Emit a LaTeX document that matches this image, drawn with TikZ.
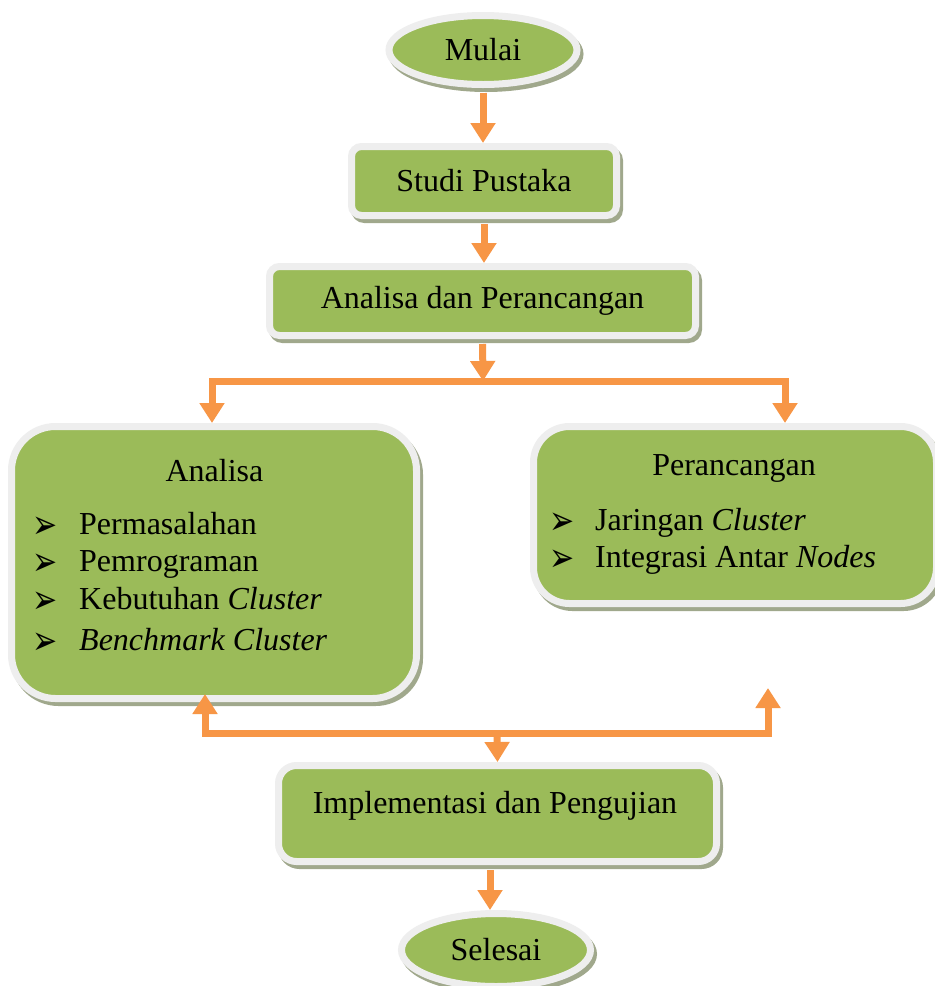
\documentclass[tikz,border=0pt]{standalone}
\usepackage{fontspec}
\setmainfont{Liberation Serif}
\newfontfamily\symfont{DejaVu Sans}
\usetikzlibrary{arrows.meta,shapes.geometric,shadows}
\definecolor{grn}{RGB}{155,187,89}
\definecolor{frm}{RGB}{238,238,238}
\definecolor{shd}{RGB}{160,168,140}
\definecolor{orng}{RGB}{247,150,70}
\newcommand{\mybul}{\scalebox{1}[1.35]{➢}}
\begin{document}
\begin{tikzpicture}[x=1pt,y=-1pt,
  every node/.style={font=\fontsize{32}{38}\selectfont, text=black},
  boxbase/.style={draw=frm, fill=grn, line width=7pt, inner sep=0pt,
     drop shadow={shadow xshift=3pt, shadow yshift=-4pt, opacity=1, fill=shd, draw=shd, line width=7pt}},
  rbox/.style={boxbase, rectangle},
  obox/.style={boxbase, ellipse},
  txt/.style={inner sep=0pt},
  arr/.style={draw=orng, line width=7pt, line join=miter, -{Triangle[width=24pt,length=20pt]}},
  bul/.style={inner sep=0pt, anchor=base west, font=\symfont\fontsize{30}{32}\selectfont}
]
\fill[white] (0,0) rectangle (935,986);
\useasboundingbox (0,0) rectangle (935,986);

% boxes
\node[obox, minimum width=188pt, minimum height=69pt] (mulai) at (483,50) {Mulai};
\node[rbox, rounded corners=10pt, minimum width=265pt, minimum height=69pt] (studi) at (484,181) {Studi Pustaka};
\node[rbox, rounded corners=10pt, minimum width=426pt, minimum height=69pt] (ap) at (482.5,301) {Analisa dan Perancangan};
\node[rbox, rounded corners=44pt, minimum width=405pt, minimum height=272pt] (analisa) at (214,562.5) {};
\node[rbox, rounded corners=36pt, minimum width=403pt, minimum height=177pt] (peran) at (735,515) {};
\node[rbox, rounded corners=18pt, minimum width=438pt, minimum height=96pt] (impl) at (497.5,813.5) {};
\node[obox, minimum width=189pt, minimum height=73pt] (selesai) at (496,950) {Selesai};

% texts in Analisa
\node[txt, anchor=base] (tanalisa) at (214.5,481) {Analisa};
\node[bul] (ba1) at (32,538) {\mybul};
\node[txt, anchor=base west] (ta1) at (79,534) {Permasalahan};
\node[bul] (ba2) at (32,575) {\mybul};
\node[txt, anchor=base west] (ta2) at (79,571) {Pemrograman};
\node[bul] (ba3) at (32,613) {\mybul};
\node[txt, anchor=base west] (ta3) at (79,609) {Kebutuhan \textit{Cluster}};
\node[bul] (ba4) at (32,654) {\mybul};
\node[txt, anchor=base west] (ta4) at (79,650) {\textit{Benchmark Cluster}};

% texts in Perancangan
\node[txt, anchor=base] (tperan) at (734,475) {Perancangan};
\node[bul] (bp1) at (549,534) {\mybul};
\node[txt, anchor=base west] (tp1) at (595,530) {Jaringan \textit{Cluster}};
\node[bul] (bp2) at (549,571) {\mybul};
\node[txt, anchor=base west] (tp2) at (595,567) {Integrasi Antar \textit{Nodes}};

% text in Implementasi
\node[txt, anchor=base] (timpl) at (495,813) {Implementasi dan Pengujian};

% connectors
\draw[arr, shorten <=5pt] (mulai.south) -- (mulai.south |- studi.north);
\draw[arr, shorten <=5pt] (studi.south) -- (studi.south |- ap.north);

\coordinate (s1) at (483,381);
\coordinate (s1l) at (212,381);
\coordinate (s1r) at (785,381);
\draw[arr, shorten <=5pt] (ap.south) -- (s1);
\draw[arr] (s1) -- (s1l) -- (s1l |- analisa.north);
\draw[arr] (s1) -- (s1r) -- (s1r |- peran.north);

\coordinate (s2) at (497,733);
\coordinate (s2l) at (205,733);
\coordinate (s2r) at (768,733);
\coordinate (ptip) at (768,688);
\draw[arr] (s2) -- (impl.north);
\draw[arr, shorten >=-8pt] (s2) -- (s2l) -- (s2l |- analisa.south);
\draw[arr] (s2) -- (s2r) -- (ptip);
\draw[arr, shorten <=5pt] ([xshift=-7.5pt]impl.south) -- ([xshift=-6pt]selesai.north);
\end{tikzpicture}
\end{document}
